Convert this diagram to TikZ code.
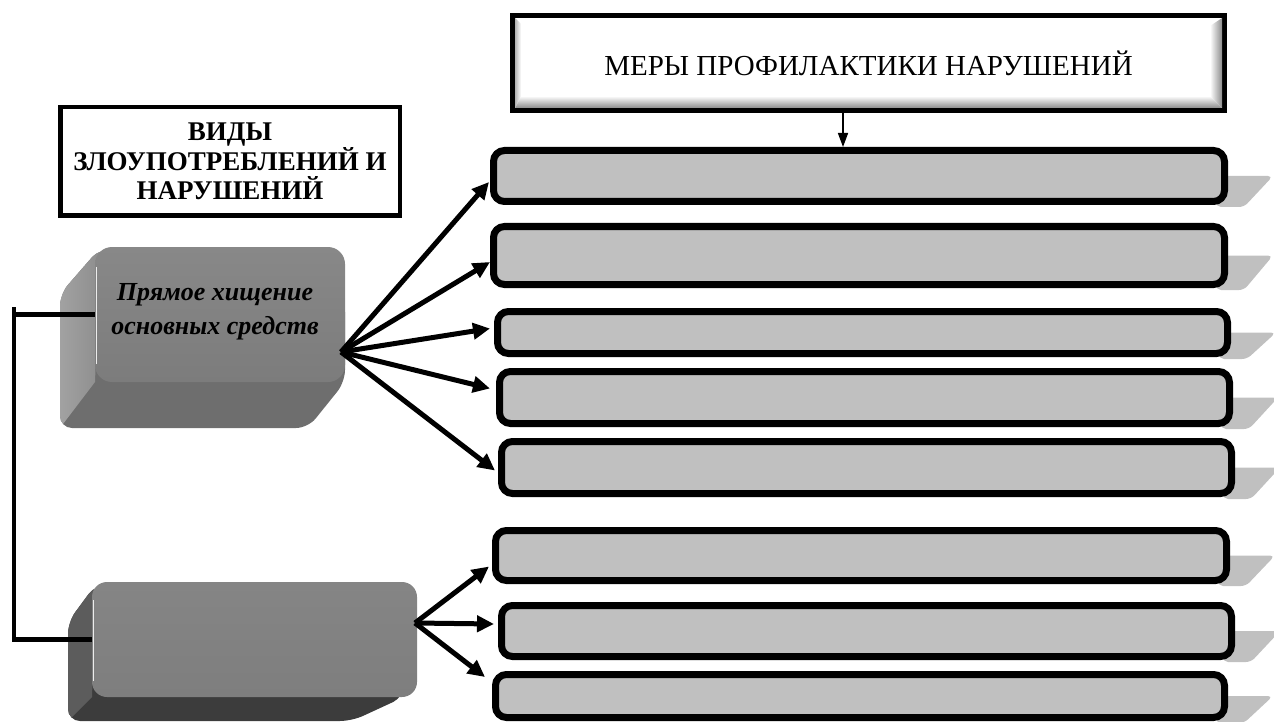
\documentclass[tikz,border=0pt]{standalone}
\usepackage{fontspec}
\setmainfont{Liberation Serif}
\usetikzlibrary{arrows.meta,calc,backgrounds}
\definecolor{barfill}{HTML}{C0C0C0}
\definecolor{faceA}{HTML}{888888}
\definecolor{faceAb}{HTML}{7C7C7C}
\definecolor{sideA}{HTML}{A2A2A2}
\definecolor{sideAb}{HTML}{8E8E8E}
\definecolor{botA}{HTML}{6E6E6E}
\definecolor{faceB}{HTML}{858585}
\definecolor{faceBb}{HTML}{7E7E7E}
\definecolor{sideB}{HTML}{5C5C5C}
\definecolor{botB}{HTML}{3C3C3C}
\begin{document}
\begin{tikzpicture}[x=1pt,y=-1pt,
  bar/.style={draw=black, line width=7pt, fill=barfill, rounded corners=11pt, inner sep=0pt},
  arr/.style={line width=5pt, -{Triangle[length=17pt,width=16pt]}},
  thinarr/.style={line width=1.6pt, -{Triangle[length=14pt,width=10pt]}},
  conn/.style={line width=4.5pt},
  framebox/.style={draw=black, fill=white, inner sep=0pt},
  frontface/.style={rounded corners=17pt, inner sep=0pt},
  highlight/.style={white!85!gray, line width=1pt},
  barshadow/.style={fill=barfill, rounded corners=5pt}]
\useasboundingbox (0,0) rectangle (1274,722);

% ---------- bars ----------
\node[bar, minimum width=731, minimum height=51] (b1) at (859,176) {};
\node[bar, minimum width=731, minimum height=58] (b2) at (859,255.5) {};
\node[bar, minimum width=730, minimum height=42] (b3) at (862.5,332.5) {};
\node[bar, minimum width=730, minimum height=52] (b4) at (864.5,397.5) {};
\node[bar, minimum width=730, minimum height=52] (b5) at (866.5,467.5) {};
\node[bar, minimum width=731, minimum height=50] (b6) at (861,555.5) {};
\node[bar, minimum width=730, minimum height=51] (b7) at (866.5,631) {};
\node[bar, minimum width=729, minimum height=43] (b8) at (860,696) {};

\begin{scope}[on background layer]
\foreach \b in {b1,b2,b3,b4,b5,b6,b7,b8}{
  \fill[barshadow] ($(\b.east)+(-12,0)$) -- ($(\b.east)+(45,0)$) -- ($(\b.south east)+(16,2)$) -- ($(\b.south east)+(-12,2)$) -- cycle;
}
\end{scope}

% ---------- top box ----------
\node[framebox, line width=5pt, minimum width=712, minimum height=95,
      font=\fontsize{29}{34}\selectfont] (tb) at (868.5,63) {МЕРЫ ПРОФИЛАКТИКИ НАРУШЕНИЙ};
\shade[top color=white, bottom color=black!45] (521,96) -- (1210,96) -- (1222,108) -- (515,108) -- cycle;
\shade[left color=white, right color=black!45] (1210,26) -- (1222,18) -- (1222,108) -- (1210,96) -- cycle;
\shade[left color=black!30, right color=white] (515,18) -- (521,24) -- (521,96) -- (515,108) -- cycle;
\coordinate (ax) at (843,0);
\draw[thinarr] (tb.south -| ax) -- (b1.north -| ax);

% ---------- header box ----------
\node[framebox, line width=4.5pt, minimum width=339.5, minimum height=108.5, align=center,
      font=\fontsize{27}{29.5}\selectfont\bfseries] (hd) at (230,161.5)
      {ВИДЫ\\ЗЛОУПОТРЕБЛЕНИЙ И\\НАРУШЕНИЙ};

% ---------- 3D box 1 ----------
\fill[botA, rounded corners=12pt] (100,248) -- (60,294) -- (60,428) -- (308,428) -- (345,382) -- (345,300) -- cycle;
\begin{scope}
  \clip[rounded corners=12pt] (100,248) -- (60,294) -- (60,428) -- (308,428) -- (345,382) -- (345,300) -- cycle;
  \shade[left color=sideA, right color=sideAb] (100,248) -- (60,294) -- (60,428) -- (95,382) -- cycle;
\end{scope}
\node[frontface, top color=faceA, bottom color=faceAb, minimum width=250, minimum height=135] (f1) at (220,314.5) {};
\draw[highlight] ($(f1.north west)+(1.5,20)$) -- ($(f1.south west)+(1.5,-18)$);
\node[font=\fontsize{26}{34}\selectfont\bfseries\itshape, align=center] (t1) at (215,312) {Прямое хищение\\основных средств};

% ---------- 3D box 2 ----------
\fill[botB, rounded corners=12pt] (96,584) -- (68,622) -- (68,721) -- (352,721) -- (404,697) -- (404,640) -- cycle;
\begin{scope}
  \clip[rounded corners=12pt] (96,584) -- (68,622) -- (68,721) -- (352,721) -- (404,697) -- (404,640) -- cycle;
  \fill[sideB] (96,584) -- (68,622) -- (68,721) -- (92,697) -- cycle;
\end{scope}
\node[frontface, rounded corners=15pt, top color=faceB, bottom color=faceBb, minimum width=325, minimum height=115] (f2) at (254.5,639.5) {};
\draw[highlight] ($(f2.north west)+(1.5,18)$) -- ($(f2.south west)+(1.5,-16)$);

% ---------- left connector ----------
\coordinate (lx) at (14,0);
\draw[conn] (f1.west) -- (f1.west -| lx) |- (f2.west);
\draw[conn] (f1.west -| lx) -- ++(0,-8);

% ---------- arrows ----------
\coordinate (s1) at (341,352);
\coordinate (s2) at (415,623);
\draw[arr] (s1) -- ($(b1.west)+(-1,6)$);
\draw[arr] (s1) -- ($(b2.west)+(0,6.5)$);
\draw[arr] (s1) -- ($(b3.west)+(-4,-4)$);
\draw[arr] (s1) -- ($(b4.west)+(-6,-9)$);
\draw[arr] (s1) -- ($(b5.west)+(-3,3)$);
\draw[arr] (s2) -- ($(b6.west)+(-3,11)$);
\draw[arr] (s2) -- ($(b7.west)+(-4,-7)$);
\draw[arr] (s2) -- ($(b8.west)+(-7,-19)$);
\end{tikzpicture}
\end{document}
